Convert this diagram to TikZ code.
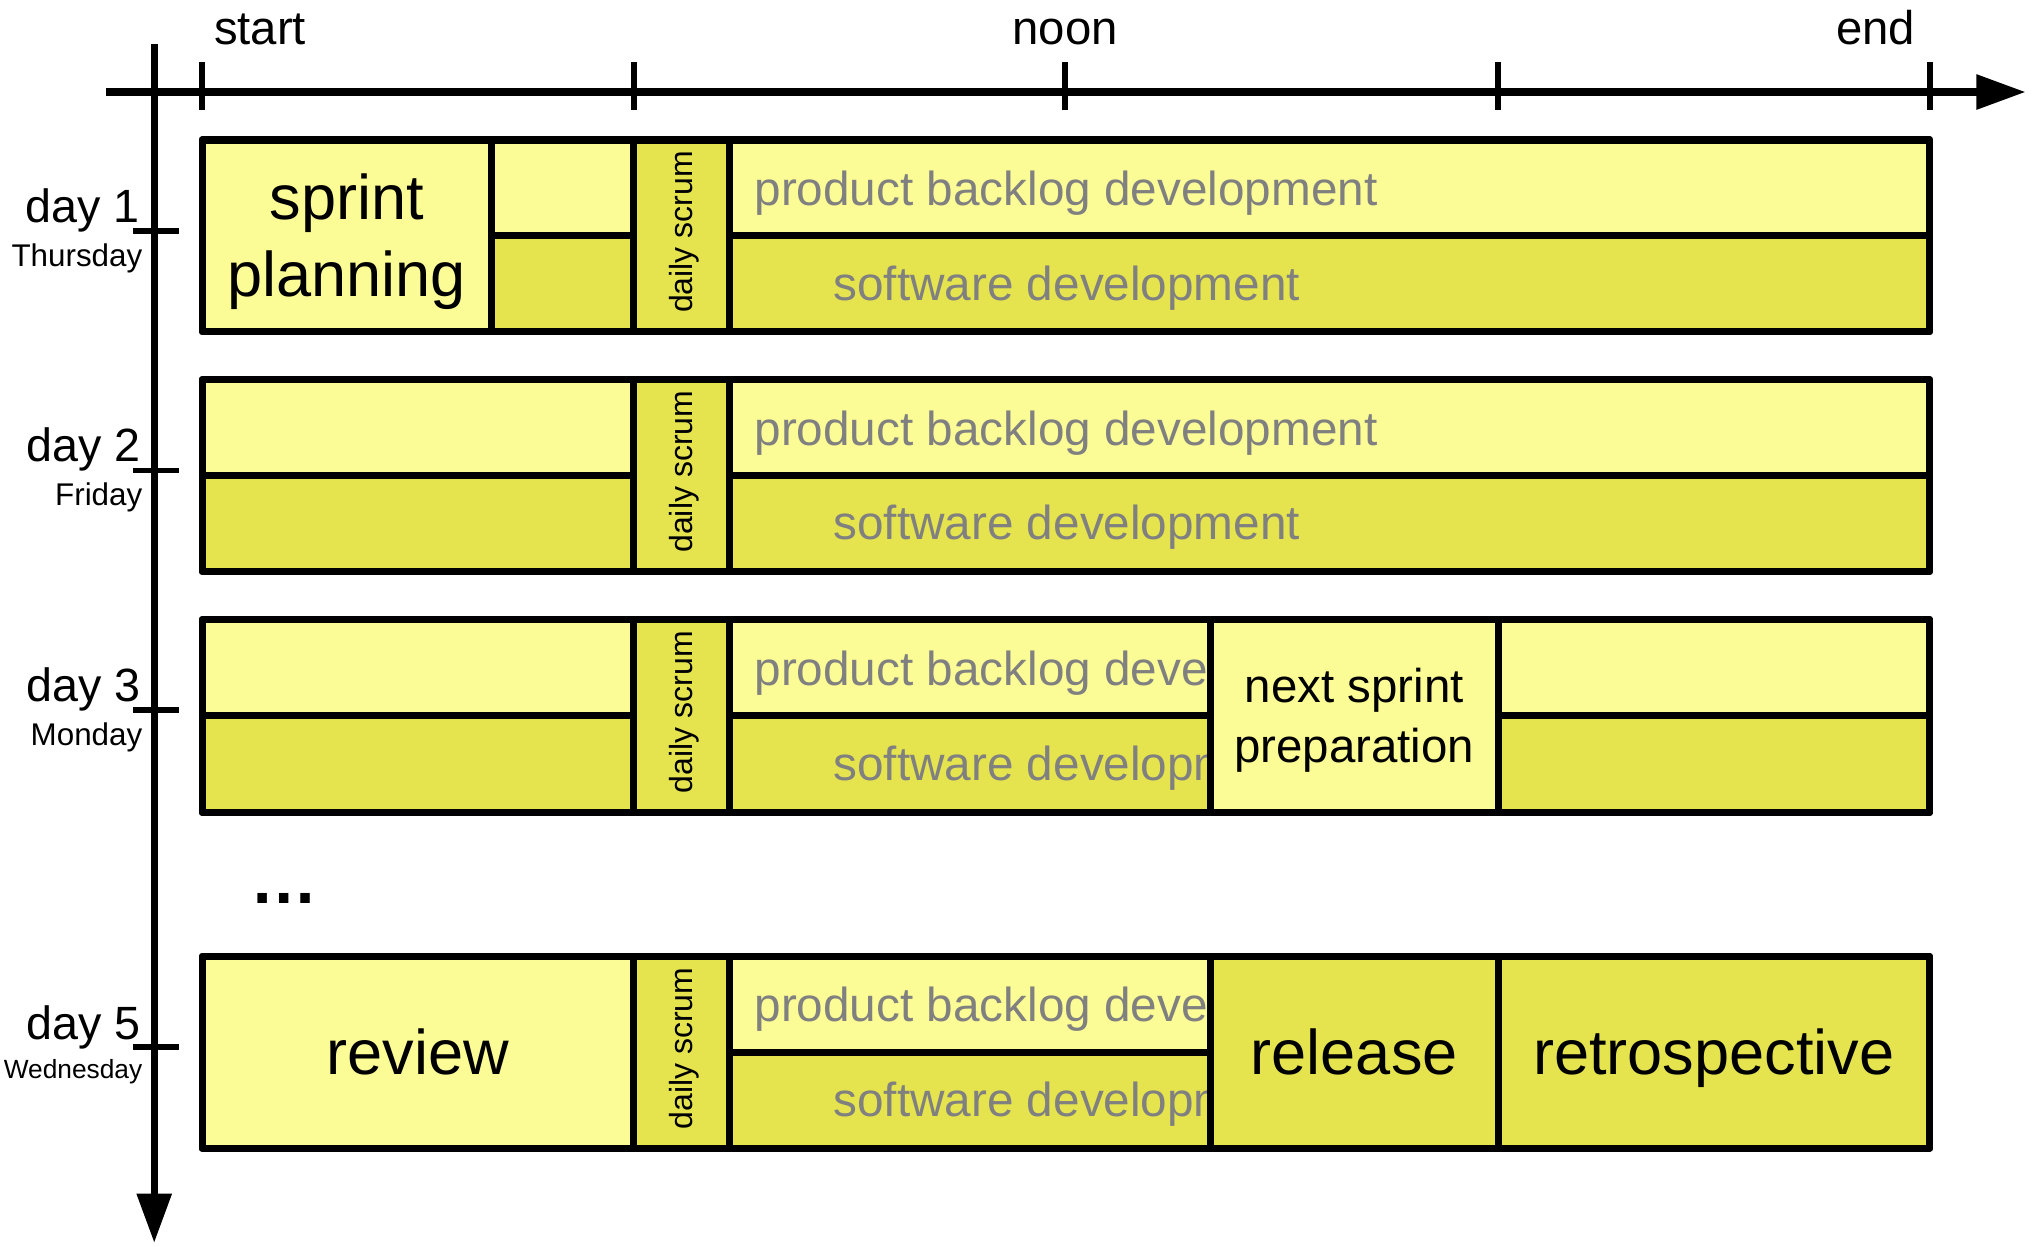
\documentclass[tikz,border=0pt]{standalone}
\usepackage{fontspec}
\setmainfont{Liberation Sans}
\usetikzlibrary{arrows.meta}
\definecolor{lightY}{RGB}{252,252,150}
\definecolor{darkY}{RGB}{229,228,79}
\definecolor{greyT}{RGB}{128,128,128}
\begin{document}
\begin{tikzpicture}[x=1pt,y=-1pt,
  cellbox/.style={draw=black,line width=5.5pt,line join=round},
  lt/.style={cellbox,fill=lightY},
  dk/.style={cellbox,fill=darkY},
  frame/.style={draw=black,line width=5.5pt,line join=round},
  big/.style={font=\fontsize{48.7}{60}\selectfont, inner sep=0pt, align=center, anchor=base},
  mid/.style={font=\fontsize{36.6}{46}\selectfont, inner sep=0pt, align=center, anchor=base},
  grey/.style={font=\fontsize{36.8}{44}\selectfont, text=greyT, inner sep=0pt, anchor=base west},
  scrum/.style={font=\fontsize{24.7}{30}\selectfont, rotate=90, inner sep=0pt},
  axislabel/.style={font=\fontsize{36.5}{44}\selectfont, inner sep=0pt, anchor=base},
  daylabel/.style={font=\fontsize{36}{44}\selectfont, inner sep=0pt, anchor=base east},
  wdlabel/.style={font=\fontsize{24.2}{30}\selectfont, inner sep=0pt, anchor=base east},
  axisline/.style={line width=5.5pt, -{Triangle[length=38pt,width=26pt]}},
  ticksty/.style={line width=4.5pt}
]
\useasboundingbox (0,0) rectangle (1568,962);

% ---------- axes ----------
\coordinate (hstart) at (82,71);
\coordinate (hend) at (1563,71);
\coordinate (vstart) at (119,34);
\coordinate (vend) at (119,959);
\draw[axisline] (hstart) -- (hend);
\draw[axisline] (vstart) -- (vend);
\foreach \x in {156,489,822,1156,1489} \draw[ticksty] (\x,48) -- (\x,85);
\foreach \y in {178.5,363,548,808} \draw[ticksty] (102.5,\y) -- (138.5,\y);

\node[axislabel, anchor=base west] (lstart) at (165,34) {start};
\node[axislabel] (lnoon) at (822,34) {noon};
\node[axislabel, anchor=base east] (lend) at (1478,34) {end};

\node[daylabel] (d1) at (108,172) {day 1};
\node[wdlabel] (w1) at (110,206) {Thursday};
\node[daylabel] (d2) at (109,356) {day 2};
\node[wdlabel] (w2) at (110,390) {Friday};
\node[daylabel] (d3) at (109,541) {day 3};
\node[wdlabel] (w3) at (110,575) {Monday};
\node[daylabel] (d5) at (109,802) {day 5};
\node[wdlabel, font=\fontsize{20.3}{26}\selectfont] (w5) at (110,832) {Wednesday};

\node[font=\bfseries\fontsize{52}{60}\selectfont, inner sep=0pt, anchor=base] (dots) at (219,697) {…};

% ---------- row 1 ----------
\draw[lt] (156,108) rectangle (379,256);
\draw[lt] (379,108) rectangle (489,182);
\draw[dk] (379,182) rectangle (489,256);
\draw[dk] (489,108) rectangle (563,256);
\draw[lt] (563,108) rectangle (1489,182);
\draw[dk] (563,182) rectangle (1489,256);
\draw[frame] (156,108) rectangle (1489,256);
\node[big] (sp1) at (267.5,229) {sprint\\planning};
\node[scrum] (ds1) at (528,179) {daily scrum};
\node[grey] (pb1) at (582,158.5) {product backlog development};
\node[grey] (sd1) at (643,231.5) {software development};

% ---------- row 2 ----------
\draw[lt] (156,293) rectangle (489,367);
\draw[dk] (156,367) rectangle (489,441);
\draw[dk] (489,293) rectangle (563,441);
\draw[lt] (563,293) rectangle (1489,367);
\draw[dk] (563,367) rectangle (1489,441);
\draw[frame] (156,293) rectangle (1489,441);
\node[scrum] (ds2) at (528,364) {daily scrum};
\node[grey] (pb2) at (582,343.6) {product backlog development};
\node[grey] (sd2) at (643,416.5) {software development};

% ---------- row 3 ----------
\draw[lt] (156,478) rectangle (489,552);
\draw[dk] (156,552) rectangle (489,627);
\draw[dk] (489,478) rectangle (563,627);
\draw[lt] (563,478) rectangle (934,552);
\draw[dk] (563,552) rectangle (934,627);
\node[scrum] (ds3) at (528,549.5) {daily scrum};
\begin{scope}
  \clip (563,478) rectangle (931,627);
  \node[grey] (pb3) at (582,528.6) {\makebox[346pt][l]{product backlog development}};
  \node[grey] (sd3) at (643,602) {\makebox[285pt][l]{software development}};
\end{scope}
\draw[lt] (934,478) rectangle (1156,627);
\draw[lt] (1156,478) rectangle (1489,552);
\draw[dk] (1156,552) rectangle (1489,627);
\draw[frame] (156,478) rectangle (1489,627);
\node[mid] (nsp) at (1045,588) {next sprint\\preparation};

% ---------- row 5 ----------
\draw[lt] (156,738) rectangle (489,886);
\draw[dk] (489,738) rectangle (563,886);
\draw[lt] (563,738) rectangle (934,812);
\draw[dk] (563,812) rectangle (934,886);
\node[scrum] (ds5) at (528,809) {daily scrum};
\begin{scope}
  \clip (563,738) rectangle (931,886);
  \node[grey] (pb5) at (582,788.6) {\makebox[346pt][l]{product backlog development}};
  \node[grey] (sd5) at (643,861.5) {\makebox[285pt][l]{software development}};
\end{scope}
\draw[dk] (934,738) rectangle (1156,886);
\draw[dk] (1156,738) rectangle (1489,886);
\draw[frame] (156,738) rectangle (1489,886);
\node[big] (rev) at (322.5,829) {review};
\node[big] (rel) at (1045,829) {release};
\node[big] (retro) at (1322.5,829) {retrospective};
\end{tikzpicture}
\end{document}
